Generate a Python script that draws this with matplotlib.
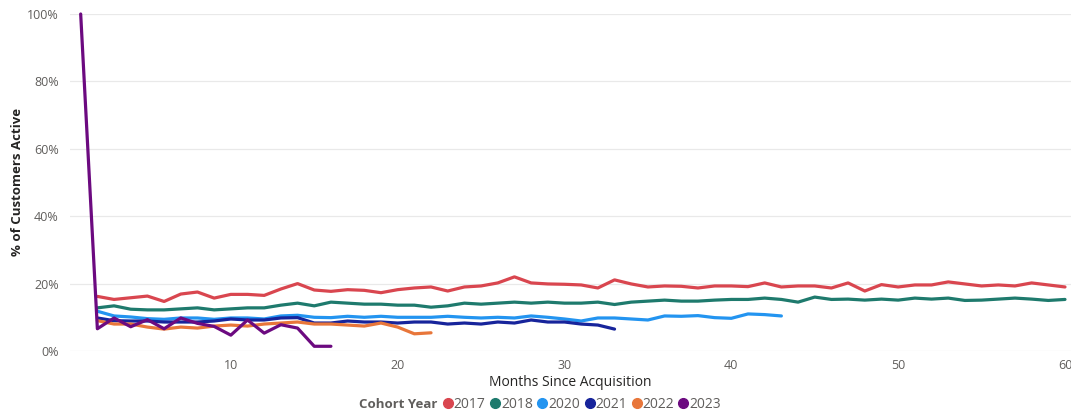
import matplotlib
matplotlib.use("Agg")
import matplotlib.pyplot as plt
from matplotlib.lines import Line2D
from matplotlib.ticker import FuncFormatter

plt.rcParams['font.family'] = ['Open Sans', 'DejaVu Sans']

cohorts = ["2017", "2018", "2020", "2021", "2022", "2023"]
colors = ["#D9464F", "#1E7A6D", "#2394F0", "#17249B", "#E8763A", "#6C0A80"]

# values from month 2 onward (month 1 = 100% for every cohort, only visible for 2023)
s2017 = [16.2, 15.3, 15.8, 16.3, 14.7, 16.9, 17.5, 15.7, 16.8, 16.8, 16.5, 18.4, 20.0, 18.1, 17.7,
         18.2, 18.0, 17.3, 18.2, 18.7, 19.0, 17.8, 19.0, 19.3, 20.2, 22.0, 20.2, 19.9, 19.8, 19.6,
         18.7, 21.1, 19.9, 19.0, 19.3, 19.2, 18.7, 19.3, 19.3, 19.1, 20.2, 19.0, 19.3, 19.3, 18.7,
         20.2, 17.8, 19.7, 19.0, 19.6, 19.6, 20.5, 19.9, 19.3, 19.6, 19.3, 20.2, 19.6, 19.0]
s2018 = [12.8, 13.4, 12.4, 12.2, 12.2, 12.5, 12.8, 12.2, 12.5, 12.8, 12.8, 13.6, 14.2, 13.4, 14.5,
         14.2, 13.9, 13.9, 13.6, 13.6, 13.0, 13.4, 14.2, 13.9, 14.2, 14.5, 14.2, 14.5, 14.2, 14.2,
         14.5, 13.8, 14.5, 14.8, 15.1, 14.8, 14.8, 15.1, 15.3, 15.3, 15.7, 15.3, 14.5, 16.0, 15.3,
         15.4, 15.1, 15.4, 15.1, 15.7, 15.4, 15.7, 15.0, 15.1, 15.4, 15.7, 15.4, 15.0, 15.3]
s2020 = [11.8, 10.4, 10.1, 9.6, 9.4, 9.8, 9.8, 9.4, 9.8, 9.8, 9.5, 10.4, 10.6, 10.0, 9.9,
         10.3, 10.0, 10.3, 10.0, 10.0, 10.0, 10.3, 10.0, 9.8, 10.0, 9.8, 10.4, 10.0, 9.5, 8.9,
         9.8, 9.8, 9.5, 9.2, 10.4, 10.3, 10.5, 9.9, 9.7, 11.0, 10.8, 10.4]
s2021 = [9.8, 9.0, 8.9, 8.9, 8.6, 8.6, 8.6, 8.9, 9.5, 9.2, 9.2, 9.8, 9.9, 8.3, 8.3,
         8.9, 8.6, 8.6, 8.3, 8.6, 8.6, 8.0, 8.3, 8.0, 8.6, 8.3, 9.2, 8.6, 8.6, 8.0, 7.7, 6.5]
s2022 = [9.0, 8.0, 8.0, 7.1, 6.5, 7.1, 6.8, 7.4, 7.7, 7.4, 8.0, 8.3, 8.6, 8.0, 8.0,
         7.7, 7.4, 8.3, 7.1, 5.1, 5.4]
s2023 = [100, 6.6, 9.8, 7.2, 9.3, 6.6, 9.8, 8.2, 7.3, 4.7, 9.2, 5.3, 7.8, 6.8, 1.4, 1.4]
start_month = [2, 2, 2, 2, 2, 1]
series = [s2017, s2018, s2020, s2021, s2022, s2023]

W, H = 1071, 416
fig = plt.figure(figsize=(W / 100, H / 100), dpi=100)
ax = fig.add_axes([70 / W, 65 / H, 1001 / W, 337 / H])

for name, vals, c, m0 in zip(cohorts, series, colors, start_month):
    months = list(range(m0, m0 + len(vals)))
    ax.plot(months, vals, color=c, lw=2.3, solid_joinstyle='round',
            solid_capstyle='round', clip_on=False, label=name)

ax.set_xlim(0.36, 60.36)
ax.set_ylim(0, 100)
ax.set_yticks([0, 20, 40, 60, 80, 100])
ax.set_xticks([10, 20, 30, 40, 50, 60])
ax.yaxis.set_major_formatter(FuncFormatter(lambda v, p: f"{int(v)}%"))
ax.grid(axis='y', color='#E9E9E9', lw=0.9)
ax.set_axisbelow(True)
for sp in ax.spines.values():
    sp.set_visible(False)
ax.tick_params(axis='both', length=0, labelsize=9, colors='#605E5C')
ax.tick_params(axis='y', pad=8)
ax.tick_params(axis='x', pad=6)

ax.set_xlabel("Months Since Acquisition", fontsize=10, color='#252423', labelpad=2)
fig.text(18 / W, 1 - 182 / H, "% of Customers Active", rotation=90, fontsize=9.5,
         fontweight='bold', color='#252423', ha='center', va='center')

fig.text(437 / W, 1 - 404 / H, "Cohort Year", fontsize=9.5, fontweight='bold',
         color='#605E5C', ha='right', va='center')
handles = [Line2D([], [], marker='o', ls='none', color=c, markersize=7) for c in colors]
fig.legend(handles, cohorts, loc='center left', bbox_to_anchor=(444 / W, 1 - 404 / H),
           ncol=6, frameon=False, fontsize=10, handletextpad=0.1, columnspacing=0.4,
           borderaxespad=0, borderpad=0, handlelength=0.6, labelcolor='#605E5C')

fig.savefig("out.png", dpi=100)
